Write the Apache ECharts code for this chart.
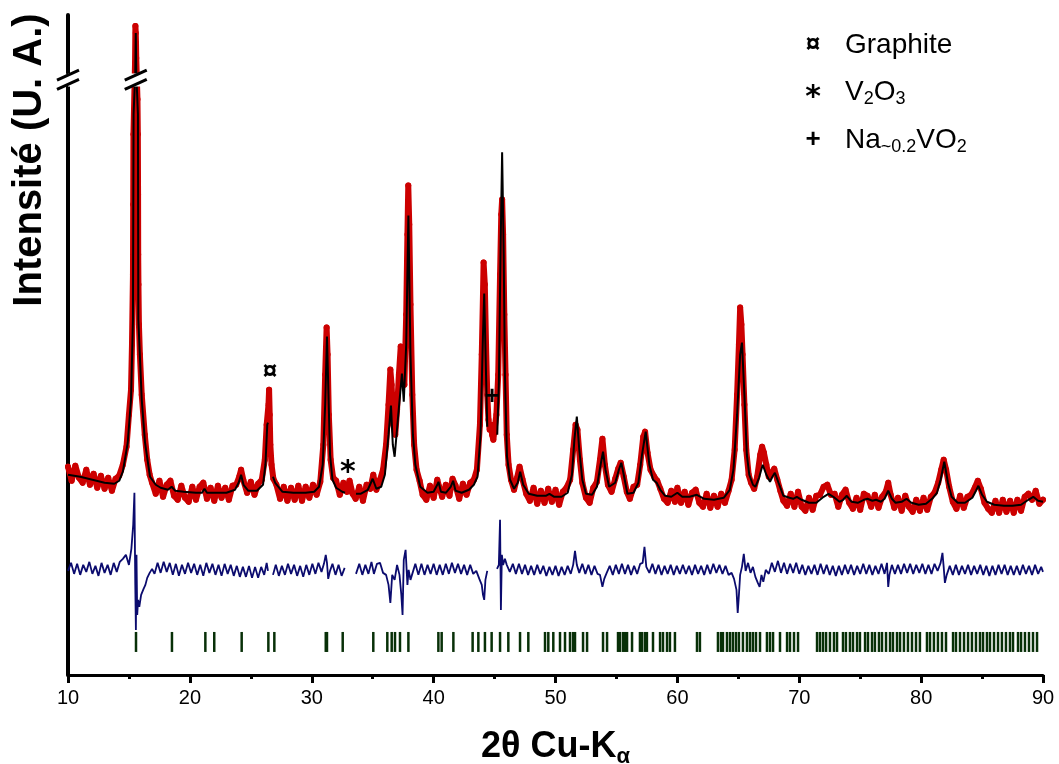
<!DOCTYPE html>
<html><head><meta charset="utf-8">
<script src="https://cdn.jsdelivr.net/npm/echarts@6.0.0/dist/echarts.min.js"></script>
<style>html,body{margin:0;padding:0;background:#fff}#c{width:1059px;height:764px}</style>
</head><body><div id="c"></div>
<script>
// ---------- DATA (2θ in degrees, intensity in arbitrary units) ----------
const calcPts = [
[10.0,200],[11.0,198],[12.0,195],[13.0,192],[13.8,191],[14.2,194],[14.5,203],[14.9,232],[15.17,275],[15.33,355],[15.38,560],[15.52,1500],[15.56,1540],[15.60,1500],[15.74,560],[15.77,355],[16.05,275],[16.32,232],[16.73,198],[17.2,190],[17.6,187],[18.2,185],[18.5,188],[18.8,184],[19.5,183],[20.5,182],[21.0,182],[21.2,186],[21.4,182],[22.0,182],[23.0,182],[23.7,185],[24.0,192],[24.2,200],[24.4,190],[24.8,184],[25.5,184],[26.0,190],[26.2,210],[26.35,250],[26.41,252],[26.6,null],
[26.82,198],[27.0,192],[27.6,183],[28.5,182],[29.5,182],[30.2,183],[30.6,188],[30.9,210],[31.1,270],[31.25,338],[31.35,290],[31.5,220],[31.7,195],[32.0,187],[32.5,183],[32.73,182],[33.2,null],
[33.63,181],[34.0,181],[34.6,185],[35.0,196],[35.3,186],[35.7,188],[36.0,200],[36.3,240],[36.5,269],[36.65,230],[36.8,218],[37.1,260],[37.4,301],[37.55,273],[37.75,330],[37.93,459],[38.1,320],[38.3,240],[38.5,210],[38.9,188],[39.5,182],[40.0,183],[40.3,190],[40.4,193],[40.6,183],[41.0,182],[41.4,188],[41.6,194],[41.8,184],[42.3,182],[42.9,185],[43.3,190],[43.6,198],[43.85,240],[44.05,340],[44.15,381],[44.3,300],[44.4,248],[44.8,null],
[45.22,240],[45.35,290],[45.5,430],[45.62,522],[45.75,420],[45.85,300],[46.02,218],[46.27,195],[46.6,186],[46.9,192],[47.1,203],[47.35,190],[47.8,181],[48.5,179],[49.2,179],[49.5,181],[49.9,178],[50.5,178],[51.0,182],[51.35,200],[51.55,235],[51.75,258],[51.95,225],[52.2,195],[52.5,181],[53.0,180],[53.4,188],[53.7,210],[53.9,223],[54.1,205],[54.4,188],[54.9,192],[55.2,205],[55.4,212],[55.6,200],[55.9,181],[56.4,182],[56.8,192],[57.1,220],[57.4,243],[57.7,210],[58.0,195],[58.3,192],[58.6,185],[59.0,179],[59.5,178],[60.0,182],[60.4,178],[61.0,178],[61.6,180],[62.2,176],[63.0,175],[63.8,177],[64.3,185],[64.6,205],[64.9,260],[65.15,320],[65.3,332],[65.5,280],[65.7,220],[65.9,200],[66.2,190],[66.4,188],[66.7,197],[67.0,210],[67.3,200],[67.6,193],[67.8,198],[68.0,202],[68.3,192],[68.7,179],[69.2,177],[69.5,176],[69.8,178],[70.2,175],[70.8,172],[71.4,172],[72.0,178],[72.4,181],[72.8,178],[73.3,173],[73.6,175],[73.9,179],[74.3,173],[74.8,172],[75.3,175],[75.6,176],[76.0,174],[76.3,175],[76.7,173],[77.0,176],[77.3,184],[77.6,176],[77.9,172],[78.4,173],[78.8,176],[79.2,172],[79.8,170],[80.4,171],[80.9,176],[81.3,182],[81.6,195],[81.9,213],[82.2,192],[82.5,178],[83.0,172],[83.6,172],[84.2,177],[84.5,184],[84.7,189],[85.0,180],[85.4,173],[86.0,170],[86.8,169],[87.5,169],[88.2,170],[88.8,175],[89.2,178],[89.6,174],[90.0,173]
];

const obsPts = [
[10.0,208],[10.3,194],[10.6,209],[10.9,197],[11.2,192],[11.5,205],[11.8,190],[12.1,201],[12.4,187],[12.7,199],[13.0,186],[13.3,197],[13.6,184],[13.9,196],[14.2,199],[14.5,210],[14.8,228],[15.0,260],[15.17,285],[15.25,330],[15.33,400],[15.35,470],[15.37,540],[15.50,1510],[15.53,1547],[15.56,1540],[15.58,1530],[15.60,1515],[15.70,575],[15.73,540],[15.75,480],[15.76,420],[15.78,390],[15.82,350],[15.9,320],[16.05,280],[16.3,240],[16.5,215],[16.7,200],[16.9,192],[17.2,181],[17.5,194],[17.8,178],[18.1,190],[18.4,194],[18.7,179],[19.0,175],[19.3,189],[19.6,177],[19.9,173],[20.2,188],[20.5,175],[20.8,188],[21.1,192],[21.4,176],[21.7,187],[22.0,174],[22.3,189],[22.6,177],[22.9,187],[23.2,175],[23.5,189],[23.8,190],[24.05,198],[24.2,205],[24.4,194],[24.7,182],[25.0,193],[25.3,180],[25.6,191],[25.9,195],[26.15,215],[26.3,250],[26.45,270],[26.5,285],[26.55,260],[26.6,230],[26.7,210],[26.85,196],[27.1,190],[27.4,176],[27.7,188],[28.0,174],[28.3,187],[28.6,175],[28.9,189],[29.2,174],[29.5,188],[29.8,177],[30.1,190],[30.4,180],[30.7,193],[30.95,230],[31.1,300],[31.22,347],[31.3,320],[31.4,260],[31.55,215],[31.75,197],[32.0,194],[32.3,180],[32.6,192],[32.9,183],[33.1,194],[33.35,181],[33.6,176],[33.9,188],[34.2,174],[34.5,190],[34.8,186],[35.05,200],[35.3,185],[35.6,195],[35.85,205],[36.1,230],[36.3,270],[36.45,305],[36.55,290],[36.7,250],[36.85,240],[37.0,265],[37.15,300],[37.3,328],[37.45,310],[37.6,290],[37.75,360],[37.85,440],[37.92,489],[38.0,450],[38.1,370],[38.25,280],[38.4,230],[38.6,205],[38.85,194],[39.1,180],[39.4,175],[39.7,189],[40.0,177],[40.3,195],[40.45,188],[40.7,178],[41.0,190],[41.3,179],[41.55,196],[41.8,189],[42.1,176],[42.4,191],[42.7,180],[43.0,192],[43.3,195],[43.55,205],[43.8,250],[43.95,320],[44.05,380],[44.1,412],[44.2,390],[44.3,330],[44.4,280],[44.5,255],[44.6,245],[44.7,250],[44.8,240],[44.9,235],[45.0,245],[45.15,260],[45.3,300],[45.45,400],[45.55,460],[45.62,475],[45.7,440],[45.8,360],[45.9,300],[46.0,240],[46.15,210],[46.35,195],[46.6,185],[46.85,197],[47.05,208],[47.3,195],[47.6,181],[47.9,174],[48.2,187],[48.5,171],[48.8,184],[49.1,172],[49.4,186],[49.7,173],[50.0,185],[50.3,170],[50.6,183],[50.9,187],[51.2,195],[51.45,225],[51.65,250],[51.8,245],[52.0,215],[52.2,192],[52.5,177],[52.8,172],[53.1,187],[53.4,193],[53.65,215],[53.85,236],[54.05,210],[54.3,190],[54.6,183],[54.9,196],[55.15,206],[55.35,212],[55.6,198],[55.85,183],[56.1,176],[56.4,188],[56.7,190],[56.95,210],[57.2,238],[57.35,243],[57.55,222],[57.8,205],[58.1,198],[58.35,194],[58.6,186],[58.9,176],[59.2,172],[59.5,184],[59.8,173],[60.0,187],[60.3,172],[60.6,183],[60.9,170],[61.2,182],[61.5,185],[61.8,172],[62.1,168],[62.4,181],[62.7,167],[63.0,179],[63.3,168],[63.6,181],[63.9,172],[64.2,184],[64.45,195],[64.7,225],[64.9,280],[65.05,330],[65.15,367],[65.25,350],[65.35,320],[65.5,270],[65.65,225],[65.85,200],[66.05,192],[66.3,186],[66.55,198],[66.8,220],[66.95,228],[67.1,222],[67.3,210],[67.5,198],[67.75,202],[67.95,206],[68.2,195],[68.45,184],[68.7,174],[69.0,169],[69.3,181],[69.6,168],[69.9,183],[70.2,168],[70.5,164],[70.8,177],[71.1,165],[71.4,179],[71.7,180],[72.0,188],[72.3,190],[72.6,180],[72.9,181],[73.2,168],[73.5,180],[73.8,185],[74.1,172],[74.4,166],[74.7,177],[75.0,165],[75.3,181],[75.6,179],[75.9,168],[76.2,180],[76.5,167],[76.8,178],[77.1,183],[77.3,192],[77.5,180],[77.8,167],[78.1,177],[78.4,164],[78.7,179],[79.0,168],[79.3,163],[79.6,175],[79.9,164],[80.2,177],[80.5,165],[80.8,178],[81.1,182],[81.4,192],[81.65,205],[81.85,215],[82.05,205],[82.3,188],[82.6,173],[82.9,166],[83.2,179],[83.5,167],[83.8,178],[84.1,180],[84.4,187],[84.65,194],[84.9,186],[85.2,172],[85.5,166],[85.8,162],[86.1,174],[86.4,162],[86.7,175],[87.0,163],[87.3,174],[87.6,162],[87.9,175],[88.2,164],[88.5,178],[88.8,181],[89.1,175],[89.4,184],[89.7,171],[90.0,175]
];

const diffPts = [
[10.0,104],[10.25,112],[10.5,101],[10.75,111],[11.0,100],[11.25,110],[11.5,103],[11.75,113],[12.0,101],[12.25,109],[12.5,99],[12.75,112],[13.0,102],[13.25,110],[13.5,100],[13.75,112],[14.0,103],[14.25,113],[14.5,116],[14.75,120],[15.0,110],[15.2,126],[15.35,150],[15.45,182],[15.52,90],[15.57,45],[15.62,120],[15.68,60],[15.75,75],[15.85,68],[16.0,80],[16.2,86],[16.35,90],[16.5,97],[16.7,102],[16.9,106],[17.1,101],[17.35,112],[17.6,102],[17.85,113],[18.1,103],[18.35,112],[18.6,100],[18.85,111],[19.1,99],[19.35,110],[19.6,101],[19.85,112],[20.1,102],[20.35,111],[20.6,100],[20.85,110],[21.1,99],[21.35,112],[21.6,102],[21.85,111],[22.1,100],[22.35,110],[22.6,99],[22.85,111],[23.1,101],[23.35,110],[23.6,99],[23.85,109],[24.1,98],[24.35,108],[24.6,98],[24.85,109],[25.1,97],[25.35,108],[25.6,97],[25.85,108],[26.1,100],[26.3,112],[26.41,104],[26.6,null],
[26.82,100],[27.05,110],[27.3,99],[27.55,109],[27.8,100],[28.05,111],[28.3,101],[28.55,110],[28.8,99],[29.05,109],[29.3,98],[29.55,110],[29.8,100],[30.05,111],[30.3,101],[30.55,112],[30.8,103],[31.0,111],[31.15,120],[31.25,112],[31.35,96],[31.5,104],[31.7,111],[31.95,100],[32.2,110],[32.45,99],[32.7,107],[33.2,null],
[33.63,101],[33.9,111],[34.15,100],[34.4,110],[34.65,101],[34.9,113],[35.1,101],[35.35,111],[35.6,112],[35.85,102],[36.1,100],[36.3,90],[36.45,72],[36.6,100],[36.8,95],[37.0,110],[37.2,100],[37.35,80],[37.45,60],[37.55,115],[37.7,125],[37.85,90],[37.95,105],[38.1,95],[38.3,103],[38.5,111],[38.75,100],[39.0,111],[39.25,100],[39.5,110],[39.75,101],[40.0,111],[40.25,100],[40.5,110],[40.75,100],[41.0,111],[41.25,101],[41.5,112],[41.75,102],[42.0,111],[42.25,101],[42.5,110],[42.75,100],[43.0,110],[43.25,101],[43.5,104],[43.75,96],[43.95,90],[44.05,80],[44.15,75],[44.25,95],[44.4,104],[44.8,null],
[45.2,106],[45.35,110],[45.45,155],[45.52,65],[45.6,120],[45.7,110],[45.85,116],[46.0,110],[46.25,103],[46.5,111],[46.75,101],[47.0,111],[47.25,101],[47.5,110],[47.75,100],[48.0,109],[48.25,100],[48.5,110],[48.75,101],[49.0,109],[49.25,99],[49.5,108],[49.75,100],[50.0,109],[50.25,99],[50.5,108],[50.75,100],[51.0,109],[51.25,101],[51.45,110],[51.6,124],[51.75,110],[51.95,102],[52.2,111],[52.45,101],[52.7,110],[52.95,100],[53.2,109],[53.45,101],[53.65,100],[53.85,88],[54.0,96],[54.2,102],[54.45,109],[54.7,100],[54.95,110],[55.2,101],[55.45,111],[55.7,101],[55.95,110],[56.2,100],[56.45,109],[56.7,101],[56.95,111],[57.15,112],[57.3,128],[57.45,108],[57.7,102],[57.95,111],[58.2,101],[58.45,110],[58.7,100],[58.95,109],[59.2,101],[59.45,110],[59.7,100],[59.95,109],[60.2,101],[60.45,110],[60.7,101],[60.95,109],[61.2,100],[61.45,110],[61.7,101],[61.95,109],[62.2,100],[62.45,110],[62.7,101],[62.95,111],[63.2,102],[63.45,110],[63.7,101],[63.95,109],[64.2,100],[64.45,102],[64.65,96],[64.85,85],[64.95,62],[65.05,80],[65.15,100],[65.3,108],[65.45,121],[65.6,104],[65.8,112],[66.0,102],[66.2,108],[66.4,98],[66.6,92],[66.75,88],[66.9,100],[67.05,93],[67.25,105],[67.5,101],[67.75,112],[68.0,103],[68.25,114],[68.5,102],[68.75,112],[69.0,101],[69.25,111],[69.5,102],[69.75,112],[70.0,101],[70.25,110],[70.5,100],[70.75,109],[71.0,101],[71.25,110],[71.5,100],[71.75,111],[72.0,101],[72.25,110],[72.5,100],[72.75,109],[73.0,99],[73.25,109],[73.5,100],[73.75,110],[74.0,101],[74.25,110],[74.5,100],[74.75,109],[75.0,101],[75.25,111],[75.5,101],[75.75,110],[76.0,100],[76.25,109],[76.5,101],[76.75,111],[77.0,101],[77.2,112],[77.3,88],[77.4,100],[77.6,110],[77.85,101],[78.1,110],[78.35,101],[78.6,111],[78.85,102],[79.1,111],[79.35,101],[79.6,110],[79.85,102],[80.1,111],[80.35,101],[80.6,110],[80.85,101],[81.1,111],[81.35,104],[81.6,112],[81.75,122],[81.85,108],[81.95,92],[82.1,100],[82.35,109],[82.6,100],[82.85,110],[83.1,100],[83.35,109],[83.6,101],[83.85,110],[84.1,100],[84.35,109],[84.6,101],[84.85,110],[85.1,100],[85.35,109],[85.6,99],[85.85,109],[86.1,100],[86.35,110],[86.6,101],[86.85,110],[87.1,100],[87.35,109],[87.6,100],[87.85,109],[88.1,100],[88.35,110],[88.6,101],[88.85,109],[89.1,100],[89.35,110],[89.6,101],[89.85,108],[90.0,103]
];

const braggPos = [15.58,18.53,21.27,22.00,24.25,26.44,26.93,31.15,31.25,32.54,35.05,36.20,36.56,36.83,37.24,37.93,40.39,40.66,41.62,43.20,43.67,44.21,44.76,45.45,46.13,47.09,47.77,49.14,49.41,49.82,50.37,50.78,51.19,51.44,51.60,52.26,52.59,53.90,54.23,55.13,55.29,55.54,55.70,55.87,56.28,56.93,57.10,57.34,57.50,58.00,58.58,58.82,59.15,59.39,59.80,61.61,61.85,63.33,63.58,63.74,64.07,64.32,64.56,64.81,65.05,65.38,65.71,65.96,66.20,66.45,66.78,67.35,67.60,67.85,68.42,69.00,69.24,69.57,69.90,71.46,71.70,71.95,72.20,72.52,72.85,73.10,73.59,73.83,74.16,74.41,74.74,74.98,75.40,75.64,75.97,76.21,76.54,76.79,77.12,77.45,77.69,78.02,78.27,78.59,78.92,79.25,79.58,79.90,80.48,80.73,81.05,81.38,81.71,82.04,82.62,82.86,83.19,83.52,83.85,84.17,84.50,84.83,85.08,85.40,85.65,85.98,86.31,86.63,86.96,87.29,87.54,87.95,88.20,88.52,88.85,89.18,89.51];
const braggLevel = 33;

const annotations = [[26.57,303,'¤'],[32.97,207,'*'],[44.79,278,'+']];
const legendSymbols = ['¤','*','+'];
const legendLabels = ['Graphite','V{sub|2}O{sub|3}','Na{sub|~0.2}VO{sub|2}'];
const xTitle = '2θ Cu-K{sub|α}';
const yTitle = 'Intensité (U. A.)';
const yBreak = {start: 588, end: 1500};
const yMax = 1558;

// ---------- CHART ----------
const FONT = '"Liberation Sans", Arial, sans-serif';
const STAR_FONT = '"DejaVu Sans", sans-serif';
const gap = pts => pts.map(p => [p[0], p[1] === null ? '-' : p[1]]);
const chart = echarts.init(document.getElementById('c'), null, {renderer: 'canvas'});

const option = {
  animation: false,
  backgroundColor: '#fff',
  grid: {left: 68, right: 16, top: 15, bottom: 89, containLabel: false, outerBoundsMode: 'none'},
  xAxis: {
    type: 'value', min: 10, max: 90, interval: 10,
    axisLine: {onZero: false, lineStyle: {color: '#000', width: 3}},
    axisTick: {show: true, length: 8, lineStyle: {color: '#000', width: 3}},
    minorTick: {show: true, splitNumber: 2, length: 4, lineStyle: {color: '#000', width: 3}},
    splitLine: {show: false}, minorSplitLine: {show: false},
    axisLabel: {fontSize: 20, color: '#000', fontFamily: FONT, margin: 13},
    name: xTitle, nameLocation: 'middle', nameGap: 51,
    nameTextStyle: {fontSize: 36, fontWeight: 'bold', color: '#000', fontFamily: FONT,
      rich: {sub: {fontSize: 22, fontWeight: 'bold', color: '#000', fontFamily: FONT, padding: [20, 0, 0, 0]}}}
  },
  yAxis: {
    type: 'value', min: 0, max: yMax,
    axisLine: {show: true, onZero: false, lineStyle: {color: '#000', width: 4}},
    axisTick: {show: false}, axisLabel: {show: false}, splitLine: {show: false},
    breaks: [{start: yBreak.start, end: yBreak.end, gap: '2%'}],
    breakArea: {show: true, itemStyle: {color: '#fff', borderColor: '#fff', borderWidth: 0, opacity: 1},
      zigzagAmplitude: 0, zigzagZ: 100, expandOnClick: false}
  },
  series: [
    {name: 'obs', type: 'line', data: gap(obsPts), z: 2, showSymbol: true, symbol: 'circle', symbolSize: 6,
      itemStyle: {color: '#cc0000'}, lineStyle: {color: '#cc0000', width: 6, cap: 'round', join: 'round'}, silent: true},
    {name: 'calc', type: 'line', data: gap(calcPts), z: 4, showSymbol: false, connectNulls: false,
      lineStyle: {color: '#000', width: 2}, silent: true},
    {name: 'diff', type: 'line', data: gap(diffPts), z: 3, showSymbol: false, connectNulls: false,
      lineStyle: {color: '#0b0b6e', width: 1.8}, silent: true},
    {name: 'bragg', type: 'scatter', data: braggPos.map(x => [x, braggLevel]), z: 3,
      symbol: 'rect', symbolSize: [2.5, 20], itemStyle: {color: '#083008', opacity: 1}, silent: true},
    {name: 'annot', type: 'scatter', data: annotations, symbolSize: 0, z: 6, silent: true,
      itemStyle: {opacity: 1},
      label: {show: true, position: 'inside', color: '#000', opacity: 1, fontWeight: 'bold', fontFamily: FONT,
        formatter: p => p.value[2] === '*' ? '{star|*}' : p.value[2], fontSize: 26,
        rich: {star: {fontSize: 30, fontWeight: 'bold', fontFamily: STAR_FONT, color: '#000', padding: [10, 0, 0, 0]}}}}
  ]
};
chart.setOption(option);

// ---------- graphics: titles, legend, axis-break marks ----------
const g = [];
g.push({type: 'text', x: 30, y: 160, rotation: Math.PI / 2, z: 300,
  style: {text: yTitle, x: 0, y: 0, align: 'center', verticalAlign: 'middle',
    font: 'bold 40px ' + FONT, fill: '#000'}});
const legY = [45, 92, 140];
legendLabels.forEach((t, i) => {
  const star = legendSymbols[i] === '*';
  g.push({type: 'text', z: 300, style: {text: legendSymbols[i], x: 813, y: legY[i] + (star ? 6 : 0), align: 'center', verticalAlign: 'middle',
    font: star ? ('bold 30px ' + STAR_FONT) : ('bold 26px ' + FONT), fill: '#000'}});
  g.push({type: 'text', z: 300, style: {text: t, x: 845, y: legY[i], align: 'left', verticalAlign: 'middle',
    font: '28px ' + FONT, fill: '#000',
    rich: {sub: {fontSize: 18, fontFamily: FONT, fill: '#000', padding: [14, 0, 0, 0]}}}});
});
// break marks on the axis and on the tallest calculated peak
const peakPt = calcPts.reduce((a, b) => (b[1] !== null && b[1] > a[1] ? b : a));
const brkTop = chart.convertToPixel({gridIndex: 0}, [10, yBreak.end]);
const brkBot = chart.convertToPixel({gridIndex: 0}, [10, yBreak.start]);
const peakX = chart.convertToPixel({gridIndex: 0}, [peakPt[0], yBreak.end])[0];
function slash(cx, cy) {
  return {type: 'line', z: 300, shape: {x1: cx - 11, y1: cy + 5, x2: cx + 11, y2: cy - 5},
    style: {stroke: '#000', lineWidth: 3}};
}
[brkTop[0], peakX].forEach(cx => { g.push(slash(cx, brkTop[1] + 2)); g.push(slash(cx, brkBot[1] - 2)); });
chart.setOption({graphic: g});
</script></body></html>
